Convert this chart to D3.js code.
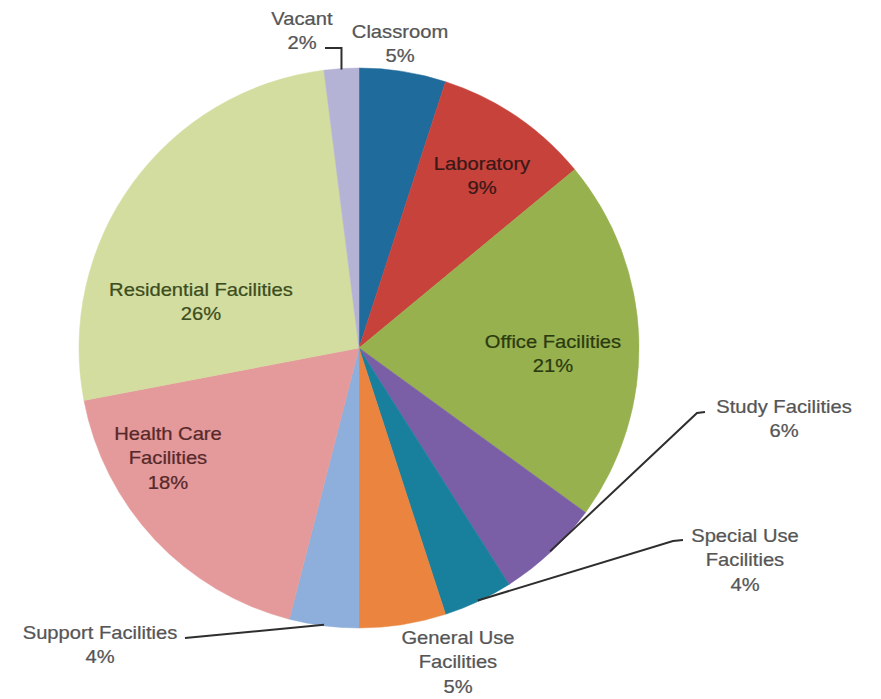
<!DOCTYPE html>
<html>
<head>
<meta charset="utf-8">
<script src="https://cdn.jsdelivr.net/npm/d3@7"></script>
<style>
  body { margin: 0; background: #fff; }
  svg { display: block; }
</style>
</head>
<body>
<div id="chart"></div>
<script>
// slice data, clockwise from 12 o'clock
var categories = ["Classroom", "Laboratory", "Office Facilities", "Study Facilities",
  "Special Use Facilities", "General Use Facilities", "Support Facilities",
  "Health Care Facilities", "Residential Facilities", "Vacant"];
var shares = [5, 9, 21, 6, 4, 5, 4, 18, 26, 2];
// how each label is broken into lines
var labelLines = [
  ["Classroom"], ["Laboratory"], ["Office Facilities"], ["Study Facilities"],
  ["Special Use", "Facilities"], ["General Use", "Facilities"], ["Support Facilities"],
  ["Health Care", "Facilities"], ["Residential Facilities"], ["Vacant"]
];

var colors = ["#1f6b9b", "#c8423c", "#97b14f", "#7b5fa6", "#187f9c",
  "#eb843f", "#8eaedb", "#e49a9b", "#d2dd9f", "#b4b2d5"];

// label placement: centre x, first baseline y, text colour
var labelAt = {
  "Classroom": [400, 38, "#555"],
  "Laboratory": [482, 170, "#3a1816"],
  "Office Facilities": [553, 348, "#2b3b10"],
  "Study Facilities": [784, 413, "#555"],
  "Special Use Facilities": [745, 542, "#555"],
  "General Use Facilities": [458, 644, "#555"],
  "Support Facilities": [100, 639, "#555"],
  "Health Care Facilities": [168, 440, "#57292a"],
  "Residential Facilities": [201, 296, "#3d4d1e"],
  "Vacant": [302, 25, "#555"]
};
// leader lines: points next to the label, the slice end is added from the arc
var leaders = {
  "Vacant": [[325, 48], [null, 48]],
  "Study Facilities": [[705, 412], [697, 413]],
  "Special Use Facilities": [[683, 540], [673, 541]],
  "Support Facilities": [[185, 638]]
};

var width = 881, height = 699;
var cx = 359, cy = 348, radius = 280;
var lineGap = 24.5;

var svg = d3.select("#chart").append("svg")
  .attr("width", width)
  .attr("height", height);

var pie = d3.pie().sort(null).startAngle(0).endAngle(2 * Math.PI);
var arcs = pie(shares);
var arc = d3.arc().innerRadius(0).outerRadius(radius);

var g = svg.append("g").attr("transform", `translate(${cx}, ${cy})`);

g.selectAll("path")
  .data(arcs)
  .enter()
  .append("path")
  .attr("d", arc)
  .attr("fill", (d, i) => colors[i])
  .attr("stroke", (d, i) => colors[i])
  .attr("stroke-width", 0.5);

// leader lines
Object.keys(leaders).forEach(function(name) {
  var i = categories.indexOf(name);
  var a = arcs[i];
  var mid = (a.startAngle + a.endAngle) / 2;
  var end = d3.pointRadial(mid, radius - 1);
  var pts = leaders[name].map(p => [p[0] === null ? cx + end[0] : p[0], p[1]]);
  pts.push([cx + end[0], cy + end[1]]);
  svg.append("path")
    .attr("d", d3.line()(pts))
    .attr("fill", "none")
    .attr("stroke", "#2e2e2e")
    .attr("stroke-width", 2);
});

// labels
categories.forEach(function(name, i) {
  var pos = labelAt[name];
  var lines = labelLines[i].concat([shares[i] + "%"]);
  var t = svg.append("g")
    .attr("transform", `translate(${pos[0]}, ${pos[1]}) scale(1.12, 1)`);
  t.selectAll("text")
    .data(lines)
    .enter()
    .append("text")
    .attr("x", 0)
    .attr("y", (d, k) => k * lineGap)
    .attr("text-anchor", "middle")
    .attr("font-family", "'Liberation Sans', Arial, sans-serif")
    .attr("font-size", 18)
    .attr("fill", pos[2])
    .attr("stroke", pos[2])
    .attr("stroke-width", 0.25)
    .text(d => d);
});
</script>
</body>
</html>
